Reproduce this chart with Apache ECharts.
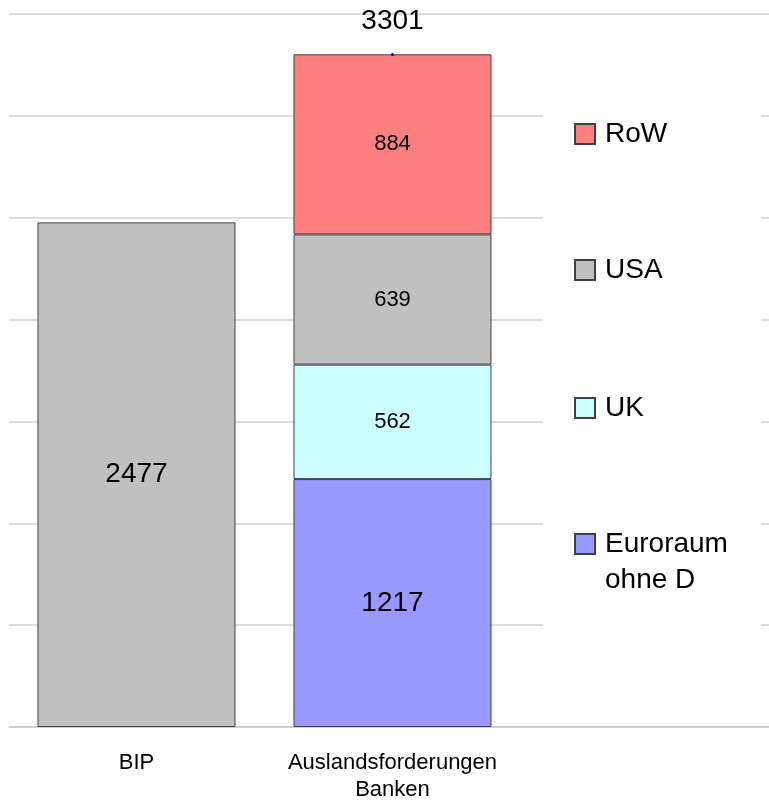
<!doctype html>
<html>
<head>
<meta charset="utf-8">
<title>BIP und Auslandsforderungen</title>
<script src="https://cdn.jsdelivr.net/npm/echarts@6/dist/echarts.min.js"></script>
<style>
  html, body { margin: 0; padding: 0; background: #fff; }
  #main { width: 769px; height: 800px; }
</style>
</head>
<body>
<div id="main"></div>
<script type="text/javascript">
// Kategorien und Werte
var categories = ['BIP', 'Auslandsforderungen\nBanken'];
var bip = [2477, '-'];
var euroraum = ['-', 1217];
var uk = ['-', 562];
var usa = ['-', 639];
var row = ['-', 884];
var totals = ['-', 3301];
var yTicks = [0, 3500, 500]; // min, max, interval

var font = 'Liberation Sans, Arial, sans-serif';
var myChart = echarts.init(document.getElementById('main'));

function legendAt(name, top, fmt) {
    var l = {
        data: [name],
        left: 574,
        top: top,
        padding: 0,
        orient: 'vertical',
        icon: 'rect',
        itemWidth: 20,
        itemHeight: 20,
        selectedMode: false,
        z: 10,
        textStyle: { fontFamily: font, fontSize: 28, color: '#000', lineHeight: 28, padding: [0, 0, 0, 5] }
    };
    if (fmt) {
        l.formatter = fmt;
        l.textStyle.lineHeight = 36;
    }
    return l;
}

function segLabel(size) {
    return {
        show: true,
        position: 'inside',
        fontFamily: font,
        fontSize: size,
        color: '#000',
        formatter: function (p) { return p.value; }
    };
}

var border = { borderColor: '#404040', borderWidth: 1 };

var option = {
    animation: false,
    backgroundColor: '#fff',
    grid: [
        { left: 8.5, right: 248.5, top: 14, bottom: 73, outerBoundsMode: 'none' },
        { left: 9, right: 0, top: 14, bottom: 73, outerBoundsMode: 'none' }
    ],
    xAxis: [{
        type: 'category',
        gridIndex: 0,
        data: categories,
        axisLine: { show: false },
        axisTick: { show: false },
        axisLabel: { interval: 0, fontFamily: font, fontSize: 22, color: '#000', lineHeight: 27, margin: 22 }
    }, {
        type: 'value',
        gridIndex: 1,
        min: 0, max: 1,
        axisLine: { show: true, onZero: false, lineStyle: { color: '#c8c8c8', width: 1.5 } },
        axisTick: { show: false },
        axisLabel: { show: false },
        splitLine: { show: false }
    }],
    yAxis: [{
        type: 'value',
        gridIndex: 0,
        min: yTicks[0], max: yTicks[1], interval: yTicks[2],
        show: false
    }, {
        type: 'value',
        gridIndex: 1,
        min: yTicks[0], max: yTicks[1], interval: yTicks[2],
        axisLine: { show: false },
        axisTick: { show: false },
        axisLabel: { show: false },
        splitLine: { show: true, lineStyle: { color: '#d2d2d2', width: 1.5 } }
    }],
    graphic: [{
        type: 'rect',
        z: 1,
        shape: { x: 543, y: 20, width: 218, height: 680 },
        style: { fill: '#fff' }
    }],
    legend: [
        legendAt('RoW', 120),
        legendAt('USA', 256),
        legendAt('UK', 394),
        legendAt('Euroraum ohne D', 490, function () { return '\nEuroraum\nohne D'; })
    ],
    series: [{
        name: 'BIP',
        type: 'bar',
        stack: 'a',
        barWidth: 198,
        z: 3,
        data: bip,
        itemStyle: Object.assign({ color: '#c0c0c0' }, border),
        label: segLabel(28)
    }, {
        name: 'Euroraum ohne D',
        type: 'bar',
        stack: 'a',
        z: 3,
        data: euroraum,
        itemStyle: Object.assign({ color: '#9999ff' }, border),
        label: segLabel(28)
    }, {
        name: 'UK',
        type: 'bar',
        stack: 'a',
        z: 3,
        data: uk,
        itemStyle: Object.assign({ color: '#ccffff' }, border),
        label: segLabel(22)
    }, {
        name: 'USA',
        type: 'bar',
        stack: 'a',
        z: 3,
        data: usa,
        itemStyle: Object.assign({ color: '#c0c0c0' }, border),
        label: segLabel(22)
    }, {
        name: 'RoW',
        type: 'bar',
        stack: 'a',
        z: 3,
        data: row,
        itemStyle: Object.assign({ color: '#ff8080' }, border),
        label: segLabel(22)
    }, {
        name: 'Summe',
        type: 'line',
        z: 5,
        data: totals,
        symbol: 'circle',
        symbolSize: 3,
        itemStyle: { color: '#0000ff' },
        lineStyle: { opacity: 0 },
        label: { show: true, position: 'top', distance: 18, fontFamily: font, fontSize: 28, color: '#000' }
    }]
};

myChart.setOption(option);
</script>
</body>
</html>
